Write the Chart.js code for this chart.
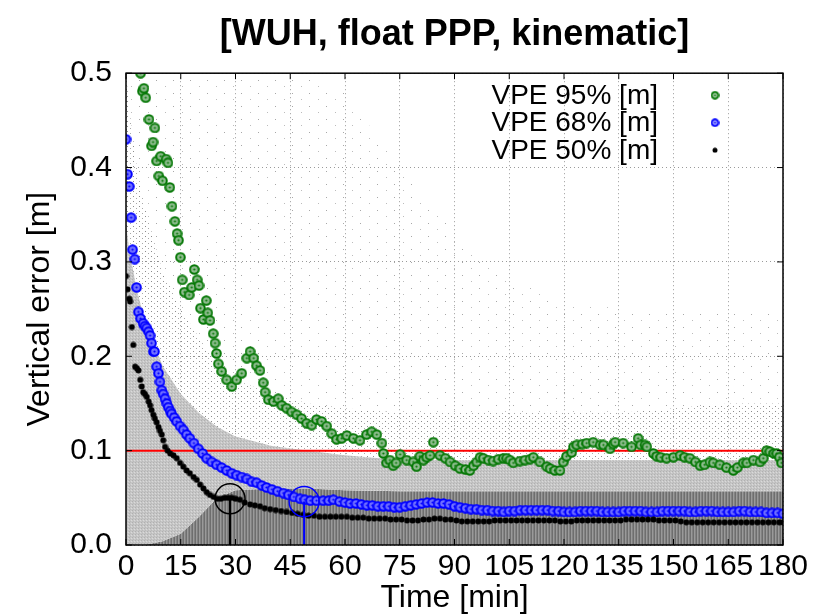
<!DOCTYPE html>
<html><head><meta charset="utf-8">
<script src="https://cdn.jsdelivr.net/npm/chart.js@4/dist/chart.umd.min.js"></script>
<style>html,body{margin:0;padding:0;background:#fff}#wrap{width:814px;height:615px}</style>
</head><body><div id="wrap"><canvas id="c" width="814" height="615"></canvas></div>
<script>
// ---- tick labels ----
const xTickValues = [0,15,30,45,60,75,90,105,120,135,150,165,180];
const xTickLabels = ['0','15','30','45','60','75','90','105','120','135','150','165','180'];
const yTickValues = [0,0.1,0.2,0.3,0.4,0.5];
const yTickLabels = ['0.0','0.1','0.2','0.3','0.4','0.5'];
const legendLabels = ['VPE 95% [m]','VPE 68% [m]','VPE 50% [m]'];

// ---- VPE 95% ----
const vpe95Time = [4.0,4.5,4.9,5.4,6.3,7.0,7.4,7.9,8.4,9.0,
 9.5,10.0,11.0,11.5,12.0,12.6,13.4,14.0,14.4,14.9,
 15.4,16.0,17.3,18.0,18.7,19.5,20.0,20.4,21.2,22.0,
 22.4,23.0,23.9,24.4,24.8,25.3,26.2,27.6,29.0,30.3,
 31.7,33.1,34.0,35.0,35.8,36.7,37.6,38.1,39.0,40.4,
 41.7,42.7,44.0,45.4,46.8,48.1,49.5,50.9,52.2,53.6,
 55.0,56.4,57.7,59.1,60.5,62.3,64.1,65.9,67.3,68.7,
 70.1,70.5,71.4,72.3,73.2,74.0,75.1,76.9,78.7,79.6,
 80.5,81.5,82.4,83.3,84.2,86.0,87.5,88.8,90.2,91.5,
 93.0,94.2,95.2,96.1,97.0,97.9,99.3,100.6,102.0,103.4,
 104.3,105.2,106.1,107.9,109.3,110.7,111.6,113.4,115.3,116.2,
 117.5,118.9,119.8,120.7,122.1,122.6,123.5,125.0,126.2,128.0,
 129.9,130.8,132.6,133.5,134.0,136.2,138.5,140.3,141.0,142.2,
 142.7,144.5,145.4,146.5,148.1,150.0,151.8,153.0,154.5,156.0,
 157.3,158.5,160.0,160.9,162.7,164.5,166.4,167.5,169.1,170.1,
 171.9,173.7,174.6,175.5,176.4,177.5,178.3,179.0,179.6];
const vpe95Value = [.500,.481,.484,.474,.451,.423,.427,.442,.407,.391,
 .412,.386,.409,.405,.379,.359,.343,.330,.323,.305,
 .281,.268,.265,.273,.292,.281,.275,.251,.239,.259,
 .246,.238,.224,.214,.203,.192,.184,.175,.168,.175,
 .182,.198,.205,.198,.190,.185,.172,.162,.154,.152,
 .155,.148,.145,.141,.138,.134,.129,.127,.133,.131,
 .126,.118,.112,.113,.116,.113,.111,.117,.120,.117,
 .108,.097,.087,.090,.084,.087,.096,.090,.088,.083,
 .094,.090,.093,.095,.109,.095,.092,.088,.084,.081,
 .080,.079,.084,.088,.093,.092,.090,.089,.091,.092,
 .092,.090,.087,.089,.090,.091,.093,.088,.083,.081,
 .079,.079,.088,.094,.098,.104,.106,.107,.108,.109,
 .106,.106,.102,.107,.109,.108,.104,.113,.106,.106,
 .104,.097,.094,.093,.092,.093,.095,.093,.092,.088,
 .084,.085,.088,.087,.085,.082,.079,.082,.087,.087,
 .090,.088,.092,.100,.099,.097,.097,.093,.087];

// ---- VPE 68% ----
const vpe68Time = [0.0,0.4,0.9,1.4,1.8,2.4,2.9,3.4,4.0,4.7,
 5.2,5.7,6.2,6.6,7.0,7.5,7.8,8.4,8.9,9.3,
 9.8,10.2,10.7,11.2,11.6,12.1,12.5,13.2,13.9,14.8,
 15.7,16.6,17.5,18.6,19.8,21.0,22.1,23.5,24.8,26.2,
 27.6,29.0,30.3,31.7,33.1,34.5,35.8,37.2,38.5,40.0,
 41.5,43.1,44.5,46.0,47.7,49.0,50.5,52.2,54.0,55.5,
 56.8,58.5,60.0,61.4,63.0,64.5,66.0,67.5,69.0,70.5,
 72.0,73.5,75.0,76.5,78.0,79.5,81.0,82.5,84.0,85.5,
 87.0,88.5,90.0,91.5,93.0,94.5,96.0,97.5,99.0,100.5,
 102.0,103.5,105.0,106.5,108.0,109.5,111.0,112.5,114.0,115.5,
 117.0,118.5,120.0,121.5,123.0,124.5,126.0,127.5,129.0,130.5,
 132.0,133.5,135.0,136.5,138.0,139.5,141.0,142.5,144.0,145.5,
 147.0,148.5,150.0,151.5,153.0,154.5,156.0,157.5,159.0,160.5,
 162.0,163.5,165.0,166.5,168.0,169.5,171.0,172.5,174.0,175.5,
 177.0,178.5,180.0];
const vpe68Value = [.430,.393,.380,.347,.313,.303,.273,.247,.240,.235,
 .232,.230,.226,.222,.214,.205,.205,.189,.182,.173,
 .164,.160,.155,.150,.146,.142,.139,.135,.131,.126,
 .122,.117,.113,.108,.102,.097,.092,.088,.085,.082,
 .079,.076,.074,.072,.070,.067,.066,.063,.061,.059,
 .057,.055,.053,.051,.049,.048,.047,.047,.047,.047,
 .048,.046,.045,.044,.044,.043,.042,.042,.041,.041,
 .041,.040,.040,.041,.042,.043,.044,.045,.045,.044,
 .044,.043,.041,.040,.039,.038,.038,.037,.037,.036,
 .036,.035,.036,.036,.037,.037,.037,.037,.037,.037,
 .036,.036,.035,.035,.035,.036,.036,.036,.036,.035,
 .035,.035,.035,.036,.036,.036,.036,.035,.035,.035,
 .036,.036,.036,.036,.036,.035,.035,.036,.036,.036,
 .035,.035,.035,.035,.036,.036,.035,.035,.035,.034,
 .034,.034,.033];

// ---- VPE 50% ----
const vpe50Time = [0.0,0.4,0.9,1.1,1.6,2.0,2.5,3.0,3.4,3.9,
 4.3,4.7,5.2,5.7,6.2,6.6,7.0,7.5,7.9,8.4,
 8.9,9.3,9.8,10.2,10.7,11.4,12.1,13.0,13.9,14.8,
 15.7,16.6,17.5,18.5,19.4,20.3,21.2,22.1,23.0,24.0,
 25.0,26.0,27.0,28.0,29.0,30.0,31.2,32.5,34.0,35.3,
 36.7,38.0,39.5,41.0,42.5,44.0,45.5,47.0,48.5,50.0,
 51.5,53.0,54.5,56.0,57.5,59.0,60.5,62.0,63.5,65.0,
 66.5,68.0,69.5,71.0,72.5,74.0,75.5,77.0,78.5,80.0,
 81.5,83.0,84.5,86.0,87.5,89.0,90.5,92.0,93.5,95.0,
 96.5,98.0,99.5,101.0,102.5,104.0,105.5,107.0,108.5,110.0,
 111.5,113.0,114.5,116.0,117.5,119.0,120.5,122.0,123.5,125.0,
 126.5,128.0,129.5,131.0,132.5,134.0,135.5,137.0,138.5,140.0,
 141.5,143.0,144.5,146.0,147.5,149.0,150.5,152.0,153.5,155.0,
 156.5,158.0,159.5,161.0,162.5,164.0,165.5,167.0,168.5,170.0,
 171.5,173.0,174.5,176.0,177.5,179.0,180.0];
const vpe50Value = [.285,.271,.261,.258,.231,.212,.189,.187,.185,.175,
 .168,.162,.160,.157,.152,.148,.143,.138,.134,.130,
 .125,.121,.117,.111,.104,.100,.097,.095,.092,.087,
 .083,.079,.076,.072,.069,.064,.060,.056,.053,.051,
 .049,.049,.050,.050,.050,.049,.048,.045,.043,.042,
 .041,.039,.038,.037,.036,.035,.034,.033,.032,.031,
 .031,.030,.030,.030,.030,.030,.030,.029,.029,.029,
 .028,.028,.028,.028,.027,.027,.027,.026,.026,.026,
 .027,.027,.028,.028,.027,.027,.026,.025,.025,.025,
 .025,.025,.025,.026,.026,.026,.026,.026,.026,.026,
 .026,.026,.026,.026,.026,.025,.025,.025,.026,.026,
 .026,.026,.026,.026,.026,.026,.026,.027,.027,.027,
 .027,.027,.027,.026,.026,.026,.026,.025,.024,.024,
 .024,.024,.024,.024,.024,.024,.024,.024,.024,.024,
 .024,.024,.024,.024,.024,.024,.024];

// ---- convergence markers (time [min], VPE value) and threshold ----
const convergenceTime = [28.5, 48.8];
const convergenceValue = [0.049, 0.046];
const thresholdValue = 0.1;

// ---- raw-error cloud: upper bounds of the point-density bands ----
const cloudTime   = [0,1,3,5,10,15,20,25,30,40,50,60,75,90,105,120,135,150,165,180];
const cloudCore   = [0,0,0,0,.004,.012,.03,.05,.058,.06,.06,.058,.057,.057,.057,.057,.057,.057,.057,.057];
const cloudDense  = [.34,.31,.27,.24,.19,.16,.14,.125,.115,.105,.1,.095,.09,.09,.09,.09,.09,.09,.09,.09];
const cloudSparse = [.5,.46,.40,.36,.29,.25,.22,.19,.175,.16,.15,.145,.14,.14,.14,.14,.14,.145,.15,.15];
const cloudFaint  = [.5,.5,.5,.5,.5,.5,.5,.5,.5,.5,.5,.48,.40,.33,.28,.26,.25,.25,.25,.25];

const FONT = '"Liberation Sans", Arial, sans-serif';
const zip = (t, v) => t.map((x, i) => ({x, y: v[i]}));

function pattern(w, h, base, pixels) {
  const c = document.createElement('canvas'); c.width = w; c.height = h;
  const g = c.getContext('2d');
  if (base) { g.fillStyle = base; g.fillRect(0, 0, w, h); }
  pixels.forEach(([px, py, col]) => { g.fillStyle = col; g.fillRect(px, py, 1, 1); });
  return document.getElementById('c').getContext('2d').createPattern(c, 'repeat');
}
const patFaint = pattern(17, 13, null, [[3,2,'#a8a8a8'],[12,8,'#bcbcbc']]);
const patSparse = pattern(6, 5, null, [[1,1,'#8c8c8c'],[4,3,'#a8a8a8']]);
const patDense = pattern(3, 3, '#c6c6c6', [[0,0,'#b0b0b0'],[2,1,'#dadada'],[1,2,'#bababa']]);
const patCore = pattern(3, 1, null, [[0,0,'#6e6e6e'],[1,0,'#9a9a9a'],[2,0,'#828282']]);

function ringMarker(color, fill, size) {
  const c = document.createElement('canvas'); c.width = c.height = size;
  const g = c.getContext('2d');
  g.beginPath(); g.arc(size/2, size/2, size/2 - 1.2, 0, 2*Math.PI);
  g.fillStyle = fill; g.fill(); g.lineWidth = 2; g.strokeStyle = color; g.stroke();
  g.beginPath(); g.arc(size/2, size/2, 1.1, 0, 2*Math.PI); g.fillStyle = color; g.fill();
  return c;
}
function dotMarker(color, size) {
  const c = document.createElement('canvas'); c.width = c.height = size;
  const g = c.getContext('2d');
  g.beginPath(); g.arc(size/2, size/2, size/2 - 0.5, 0, 2*Math.PI); g.fillStyle = color; g.fill();
  return c;
}
const greenMark = ringMarker('#067806', '#8fbc8f', 11);
const blueMark = ringMarker('#0000ff', '#7070ff', 11);
const blackMark = dotMarker('#000', 7);
const greenKey = ringMarker('#067806', '#c8dcc8', 9);
const blueKey = ringMarker('#0000ff', '#c8c8ff', 9);
const blackKey = dotMarker('#000', 6);

function cloudLayer(top, pat, fill, order) {
  return {data: zip(cloudTime, top), showLine: true, fill, backgroundColor: pat,
    borderWidth: 0, borderColor: 'rgba(0,0,0,0)', pointRadius: 0, tension: 0, order};
}

const framePlugin = {
  id: 'frame',
  afterDatasetsDraw(chart) {
    const {ctx, chartArea: a, scales: {x, y}} = chart;
    ctx.save();
    ctx.strokeStyle = '#000';
    ctx.lineWidth = 1;
    const tl = 6;
    ctx.beginPath();
    x.ticks.forEach(t => { const p = x.getPixelForValue(t.value);
      ctx.moveTo(p, a.bottom); ctx.lineTo(p, a.bottom - tl); ctx.moveTo(p, a.top); ctx.lineTo(p, a.top + tl); });
    y.ticks.forEach(t => { const p = y.getPixelForValue(t.value);
      ctx.moveTo(a.left, p); ctx.lineTo(a.left + tl, p); ctx.moveTo(a.right, p); ctx.lineTo(a.right - tl, p); });
    ctx.stroke();
    ctx.lineWidth = 1.5;
    ctx.strokeRect(a.left, a.top, a.right - a.left, a.bottom - a.top);
    // legend (key to the right of the text)
    const marks = [greenKey, blueKey, blackKey];
    ctx.font = '28px ' + FONT;
    ctx.fillStyle = '#000'; ctx.textAlign = 'right'; ctx.textBaseline = 'middle';
    legendLabels.forEach((lab, i) => {
      const yy = a.top + 22 + i * 27.5;
      ctx.fillText(lab, a.right - 125, yy + 1);
      const m = marks[i];
      ctx.drawImage(m, a.right - 68 - m.width/2, yy - m.height/2);
    });
    ctx.restore();
  }
};

new Chart(document.getElementById('c'), {
  type: 'scatter',
  data: {datasets: [
    cloudLayer(cloudCore, patCore, 'origin', 14),
    cloudLayer(cloudDense, patDense, '-1', 13),
    cloudLayer(cloudSparse, patSparse, '-1', 12),
    cloudLayer(cloudFaint, patFaint, '-1', 11),
    {data: [{x: 0, y: thresholdValue}, {x: 180, y: thresholdValue}], showLine: true, fill: false,
      borderColor: '#ff0000', borderWidth: 2, pointRadius: 0, order: 5},
    {data: zip(vpe95Time, vpe95Value), pointStyle: greenMark, fill: false, showLine: false, order: 4},
    {data: zip(vpe68Time, vpe68Value), pointStyle: blueMark, fill: false, showLine: false, order: 3},
    {data: zip(vpe50Time, vpe50Value), pointStyle: blackMark, fill: false, showLine: false, order: 2},
    {data: [{x: convergenceTime[0], y: convergenceValue[0]}, {x: convergenceTime[0], y: 0}], showLine: true, fill: false,
      borderColor: '#000', borderWidth: 2, pointRadius: [15, 0], pointBorderColor: '#000',
      pointBorderWidth: 1.5, pointBackgroundColor: 'rgba(0,0,0,0)', backgroundColor: 'rgba(0,0,0,0)', order: 1},
    {data: [{x: convergenceTime[1], y: convergenceValue[1]}, {x: convergenceTime[1], y: 0}], showLine: true, fill: false,
      borderColor: '#0000ff', borderWidth: 2, pointRadius: [15, 0], pointBorderColor: '#0000ff',
      pointBorderWidth: 1.5, pointBackgroundColor: 'rgba(0,0,0,0)', backgroundColor: 'rgba(0,0,0,0)', order: 0}
  ]},
  options: {
    responsive: false, animation: false, devicePixelRatio: 1, events: [],
    layout: {padding: {left: 0, right: 31, top: 0, bottom: 0}},
    plugins: {
      legend: {display: false}, tooltip: {enabled: false},
      title: {display: true, fullSize: false, text: '[WUH, float PPP, kinematic]', color: '#000',
        font: {family: FONT, size: 36, weight: 'bold', lineHeight: 1.2}, padding: {top: 13, bottom: 17}}
    },
    scales: {
      x: {type: 'linear', min: 0, max: 180,
        afterBuildTicks: s => { s.ticks = xTickValues.map(v => ({value: v})); },
        afterFit: s => { s.height = 70; },
        ticks: {autoSkip: false, maxRotation: 0, minRotation: 0, padding: 4, color: '#000',
          font: {family: FONT, size: 30}, callback: (v, i) => xTickLabels[i]},
        grid: {color: '#9a9a9a', lineWidth: 1, drawTicks: false},
        border: {display: false, dash: [1, 3]},
        title: {display: true, text: 'Time [min]', color: '#000',
          font: {family: FONT, size: 32, lineHeight: 1}, padding: {top: 0, bottom: 1}}
      },
      y: {type: 'linear', min: 0, max: 0.5,
        afterBuildTicks: s => { s.ticks = yTickValues.map(v => ({value: v})); },
        afterFit: s => { s.width = 126; },
        ticks: {padding: 14, color: '#000', font: {family: FONT, size: 30}, callback: (v, i) => yTickLabels[i]},
        grid: {color: '#9a9a9a', lineWidth: 1, drawTicks: false},
        border: {display: false, dash: [1, 3]},
        title: {display: true, text: 'Vertical error [m]', color: '#000',
          font: {family: FONT, size: 32, lineHeight: 1}, padding: {top: 24, bottom: 0}}
      }
    }
  },
  plugins: [framePlugin]
});
</script></body></html>
